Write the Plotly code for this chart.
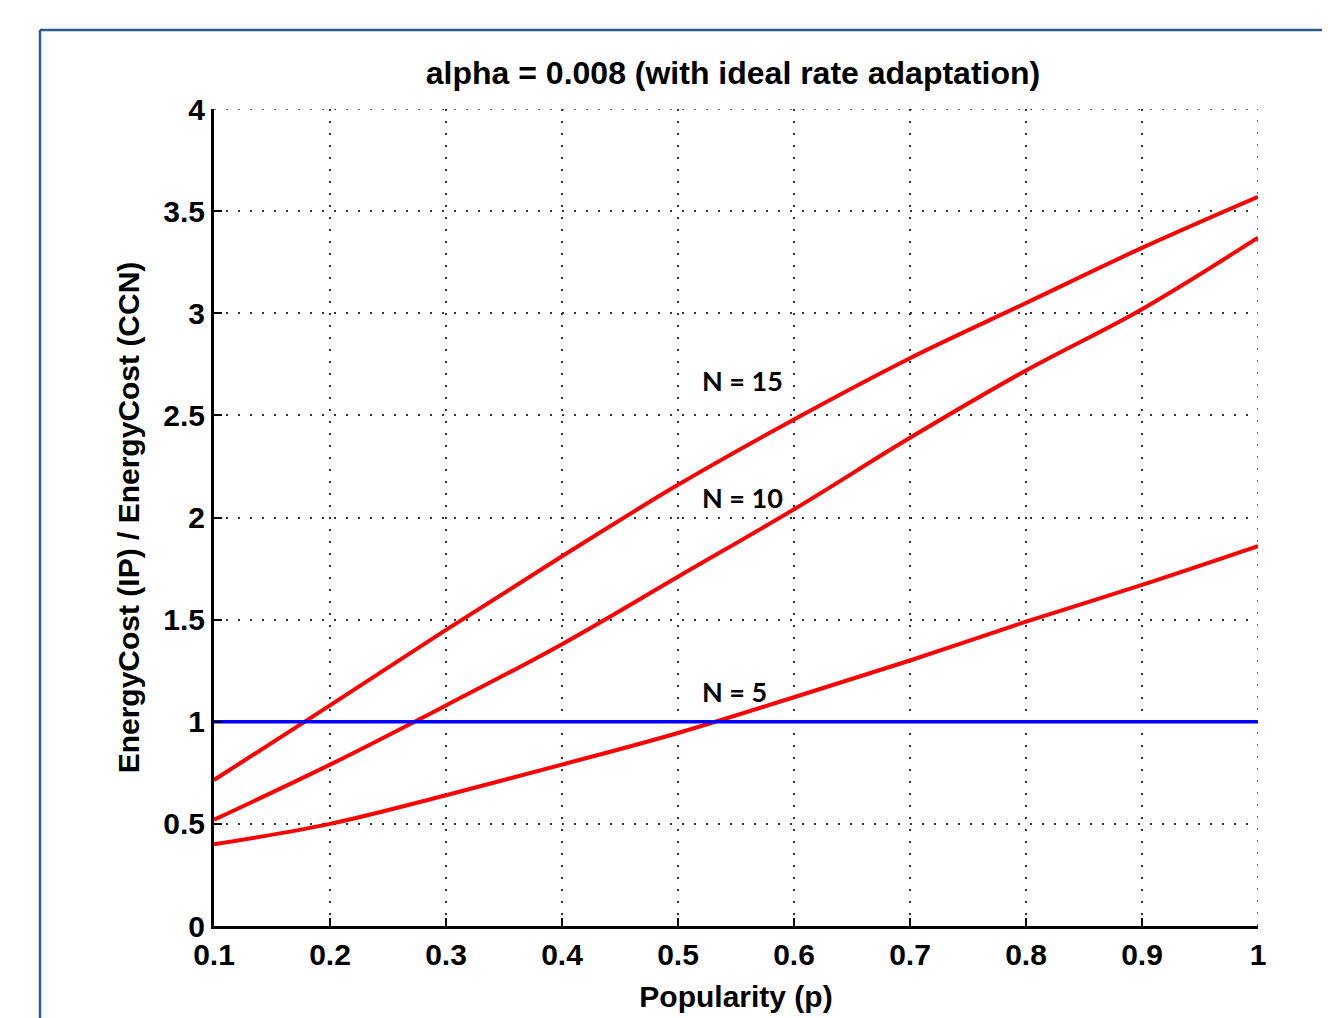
import plotly.graph_objects as go

p = [0.1, 0.2, 0.3, 0.4, 0.5, 0.6, 0.7, 0.8, 0.9, 1.0]
n15 = [0.715, 1.08, 1.45, 1.81, 2.16, 2.48, 2.78, 3.05, 3.32, 3.57]
n10 = [0.52, 0.79, 1.08, 1.38, 1.71, 2.04, 2.39, 2.72, 3.02, 3.37]
n5 = [0.40, 0.50, 0.64, 0.79, 0.945, 1.12, 1.30, 1.49, 1.67, 1.86]
ref_line = [1.0] * len(p)

labels = ["N = 15", "N = 10", "N = 5"]
label_x = [0.519, 0.519, 0.519]
label_y = [2.67, 2.10, 1.15]

xticks = [0.1, 0.2, 0.3, 0.4, 0.5, 0.6, 0.7, 0.8, 0.9, 1.0]
xticktext = ["0.1", "0.2", "0.3", "0.4", "0.5", "0.6", "0.7", "0.8", "0.9", "1"]
yticks = [0, 0.5, 1, 1.5, 2, 2.5, 3, 3.5, 4]
yticktext = ["0", "0.5", "1", "1.5", "2", "2.5", "3", "3.5", "4"]

fig = go.Figure()
for ys in [n15, n10, n5]:
    fig.add_trace(go.Scatter(x=p, y=ys, mode="lines",
                             line=dict(color="#ff0000", width=4, shape="spline", smoothing=1.0),
                             showlegend=False, hoverinfo="skip"))
fig.add_trace(go.Scatter(x=p, y=ref_line, mode="lines", line=dict(color="#0000ff", width=3.5),
                         showlegend=False, hoverinfo="skip"))

for t, xx, yy in zip(labels, label_x, label_y):
    fig.add_annotation(x=xx, y=yy, text=t, showarrow=False, xanchor="left", yanchor="middle",
                       font=dict(family="Lato", size=27, color="black", weight="bold"))

font_main = "Liberation Sans"
grid_dash = "2px,10px"
fig.update_layout(
    width=1330, height=1018,
    margin=dict(l=206, r=80, t=101, b=100),
    paper_bgcolor="white", plot_bgcolor="white",
    title=dict(text="alpha = 0.008 (with ideal rate adaptation)", x=(733 - 8) / 1330, xanchor="center",
               yref="container", y=1 - (73 - 8) / 1018, yanchor="middle",
               font=dict(family=font_main, size=32, color="black", weight="bold")),
    xaxis=dict(range=[0.1, 1.0], tickvals=xticks, ticktext=xticktext,
               showline=True, linecolor="black", linewidth=3, mirror=False,
               ticks="inside", ticklen=8, tickwidth=2, tickcolor="black",
               showgrid=True, gridcolor="#333333", gridwidth=1.5, griddash=grid_dash,
               zeroline=False,
               tickfont=dict(family=font_main, size=30, color="black", weight="bold"),
               title=dict(text="Popularity (p)", standoff=16,
                          font=dict(family=font_main, size=30, color="black", weight="bold"))),
    yaxis=dict(range=[0, 4], tickvals=yticks, ticktext=yticktext,
               showline=True, linecolor="black", linewidth=3, mirror=False,
               ticks="inside", ticklen=8, tickwidth=2, tickcolor="black",
               showgrid=True, gridcolor="#333333", gridwidth=1.5, griddash=grid_dash,
               zeroline=False,
               tickfont=dict(family=font_main, size=30, color="black", weight="bold"),
               title=dict(text="EnergyCost (IP) / EnergyCost (CCN)", standoff=15,
                          font=dict(family=font_main, size=30, color="black", weight="bold"))),
)

# dotted grid lines on the top and right edges
fig.add_shape(type="line", xref="x", yref="y", x0=0.1, x1=1.0, y0=4, y1=4,
              line=dict(color="#333333", width=1.5, dash=grid_dash))
fig.add_shape(type="line", xref="x", yref="y", x0=1.0, x1=1.0, y0=0, y1=4,
              line=dict(color="#333333", width=1.5, dash=grid_dash))

# outer frame (blue border) as in the reference screenshot
fig.add_shape(type="line", xref="paper", yref="paper",
              x0=(40 - 214) / 1044, x1=(1345 - 214) / 1044,
              y0=(926 - 30) / 817, y1=(926 - 30) / 817,
              line=dict(color="#2f5b8f", width=2.5))
fig.add_shape(type="line", xref="paper", yref="paper",
              x0=(40 - 214) / 1044, x1=(40 - 214) / 1044,
              y0=(926 - 30) / 817, y1=(926 - 1040) / 817,
              line=dict(color="#2f5b8f", width=2.5))

fig.write_html("out.html")
